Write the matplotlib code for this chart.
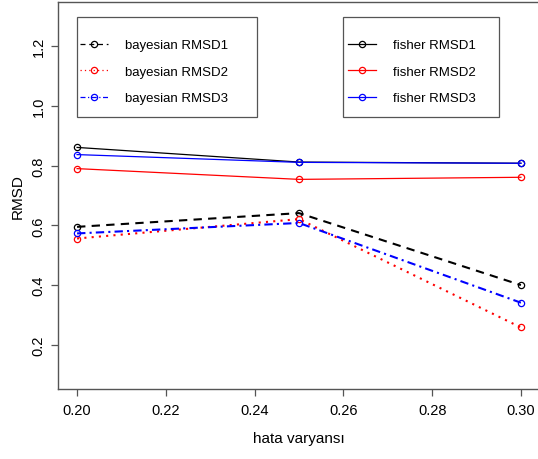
import matplotlib
matplotlib.use("Agg")
import matplotlib.pyplot as plt
from matplotlib.patches import Rectangle

plt.rcParams['font.family'] = ['Liberation Sans', 'DejaVu Sans']

x = [0.20, 0.25, 0.30]
bayes1 = [0.595, 0.641, 0.400]
bayes2 = [0.556, 0.621, 0.258]
bayes3 = [0.573, 0.608, 0.341]
fisher1 = [0.861, 0.812, 0.808]
fisher2 = [0.790, 0.754, 0.761]
fisher3 = [0.837, 0.811, 0.808]
xticks = [0.20, 0.22, 0.24, 0.26, 0.28, 0.30]
yticks = [0.2, 0.4, 0.6, 0.8, 1.0, 1.2]

W, H = 538, 460
fig = plt.figure(figsize=(W / 100, H / 100), dpi=100)
ax = fig.add_axes([58 / W, (H - 390) / H, 482 / W, 387 / H])

mk = dict(marker='o', markersize=4.5, markerfacecolor='none', markeredgewidth=0.9)
h_b1, = ax.plot(x, bayes1, color='black', ls=(0, (4, 3)), lw=1.5, label='bayesian RMSD1', **mk)
h_b2, = ax.plot(x, bayes2, color='red', ls=(0, (1, 2.5)), lw=1.5, label='bayesian RMSD2', **mk)
h_b3, = ax.plot(x, bayes3, color='blue', ls=(0, (4, 2, 1, 2)), lw=1.5, label='bayesian RMSD3', **mk)
h_f1, = ax.plot(x, fisher1, color='black', ls='-', lw=0.9, label='fisher RMSD1', **mk)
h_f2, = ax.plot(x, fisher2, color='red', ls='-', lw=0.9, label='fisher RMSD2', **mk)
h_f3, = ax.plot(x, fisher3, color='blue', ls='-', lw=0.9, label='fisher RMSD3', **mk)

ax.set_xlim(0.1957, 0.3043)
ax.set_ylim(0.052, 1.348)
ax.set_xticks(xticks)
ax.set_xticklabels([f"{v:.2f}" for v in xticks], fontsize=10.5)
ax.set_yticks(yticks)
ax.set_yticklabels([f"{v:.1f}" for v in yticks], fontsize=10.5, rotation=90, va='center')
ax.tick_params(axis='both', length=5, width=0.9, color='#555555', direction='out')
ax.tick_params(axis='x', pad=5)
ax.tick_params(axis='y', pad=4)
for s in ['left', 'bottom', 'top']:
    ax.spines[s].set_color('#555555')
    ax.spines[s].set_linewidth(1.0)
ax.spines['right'].set_visible(False)

ax.set_xlabel('hata varyansı', fontsize=11, labelpad=10)
ax.set_ylabel('RMSD', fontsize=11, labelpad=5)

# legend frames
for (x0, x1) in [(77, 257), (343, 499)]:
    fig.add_artist(Rectangle((x0 / W, (H - 118) / H), (x1 - x0) / W, 100 / H,
                             transform=fig.transFigure, fill=False,
                             edgecolor='#555555', lw=0.9))

leg_kw = dict(loc='upper left', frameon=False, fontsize=9.5, borderpad=0,
              handlelength=2.1, handletextpad=1.3, labelspacing=1.08, borderaxespad=0)
leg1 = fig.legend(handles=[h_b1, h_b2, h_b3], bbox_to_anchor=(80 / W, (H - 40) / H), **leg_kw)
leg2 = fig.legend(handles=[h_f1, h_f2, h_f3], bbox_to_anchor=(348 / W, (H - 40) / H), **leg_kw)
for leg in (leg1, leg2):
    for line in leg.get_lines():
        line.set_linewidth(0.9)

fig.savefig('out.png', dpi=100)
